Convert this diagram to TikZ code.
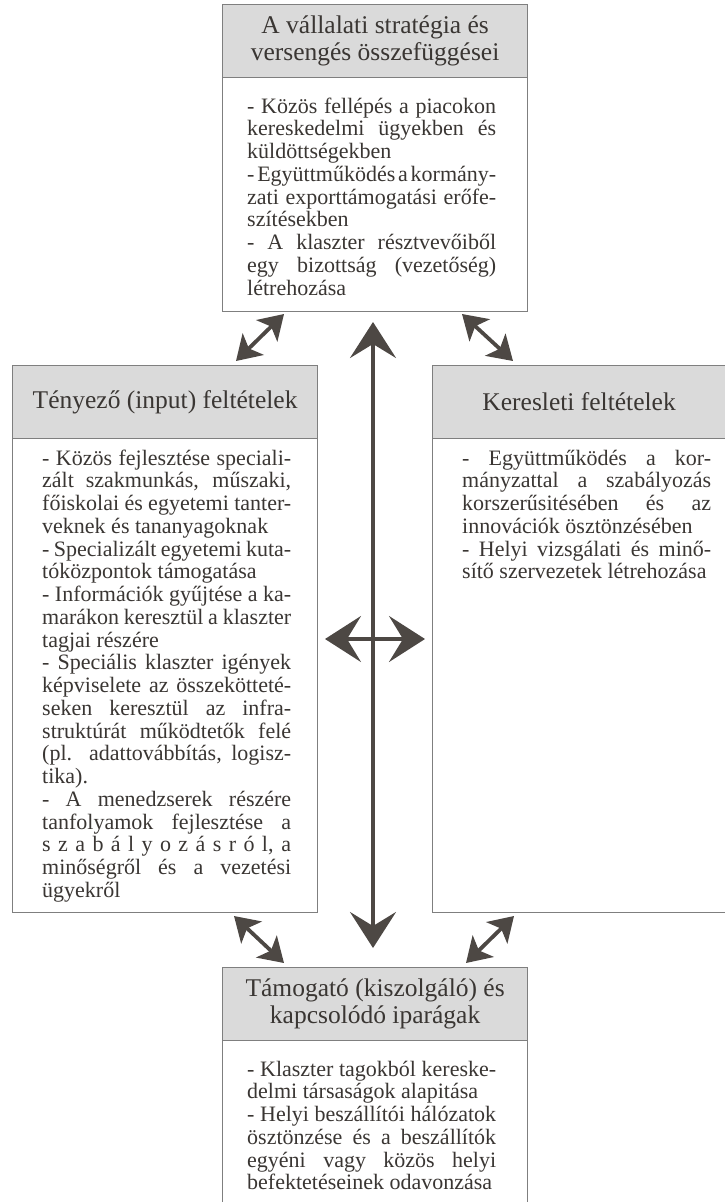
\documentclass[tikz,border=0pt]{standalone}
\usepackage{fontspec}
\setmainfont{Liberation Serif}[WordSpace={1,4,2}]
\usetikzlibrary{arrows.meta}
\definecolor{txt}{HTML}{3A3633}
\definecolor{arr}{HTML}{4D4844}
\definecolor{bord}{HTML}{7F7F7F}
\definecolor{hfill}{HTML}{DADADA}
\newdimen\bw \bw=249pt
\newcommand\JLine[1]{\hbox to \bw{#1}}
\newcommand\LLine[1]{\hbox to \bw{#1\hfil}}
\newcommand\BodyText[1]{\vtop{\baselineskip=22.75pt\lineskiplimit=-10pt #1}}
\begin{document}
\begin{tikzpicture}[x=1pt,y=-1pt,
  boxst/.style={draw=bord, line width=1.2pt, fill=white, inner sep=0pt, anchor=north west},
  hdrst/.style={draw=bord, line width=1.2pt, fill=hfill, inner sep=0pt, anchor=north west, minimum height=73pt},
  htext/.style={font=\fontsize{25.5}{27}\selectfont, align=center, text=txt, inner sep=0pt},
  btext/.style={font=\fontsize{22}{22.75}\selectfont, anchor=base west, inner sep=0pt, text=txt},
  bigarr/.style={draw=arr, line width=3.4pt, {Stealth[length=36pt,width=46pt,inset=14pt]}-{Stealth[length=36pt,width=46pt,inset=14pt]}},
  smallarr/.style={draw=arr, line width=3.8pt, {Stealth[length=24pt,width=30pt,inset=6pt]}-{Stealth[length=24pt,width=30pt,inset=6pt]}}]
\useasboundingbox (0,0) rectangle (725,1202);
\clip (0,0) rectangle (725,1202);

% top box
\node[boxst, minimum width=305pt, minimum height=307pt] (topbox) at (222,4) {};
\node[hdrst, minimum width=305pt] (tophdr) at (222,4) {};
\node[htext] (toptitle) at (tophdr.center) {A vállalati stratégia és\\versengés összefüggései};
\node[btext] (topbody) at (247,113) {\BodyText{%
\JLine{- Közös fellépés a piacokon}
\JLine{kereskedelmi ügyekben és}
\LLine{küldöttségekben}
\JLine{- Együttműködés a kormány-}
\JLine{zati exporttámogatási erőfe-}
\LLine{szítésekben}
\JLine{- A klaszter résztvevőiből}
\JLine{egy bizottság (vezetőség)}
\LLine{létrehozása}}};

% left box
\node[boxst, minimum width=305pt, minimum height=547pt] (leftbox) at (12,365) {};
\node[hdrst, minimum width=305pt] (lefthdr) at (12,365) {};
\node[htext] (lefttitle) at (lefthdr.center) {Tényező (input) feltételek};
\node[btext] (leftbody) at (42,465) {\BodyText{%
\JLine{- Közös fejlesztése speciali-}
\JLine{zált szakmunkás, műszaki,}
\JLine{főiskolai és egyetemi tanter-}
\LLine{veknek és tananyagoknak}
\JLine{- Specializált egyetemi kuta-}
\LLine{tóközpontok támogatása}
\JLine{- Információk gyűjtése a ka-}
\JLine{marákon keresztül a klaszter}
\LLine{tagjai részére}
\JLine{- Speciális klaszter igények}
\JLine{képviselete az összekötteté-}
\JLine{seken keresztül az infra-}
\JLine{struktúrát működtetők felé}
\JLine{(pl. adattovábbítás, logisz-}
\LLine{tika).}
\JLine{- A menedzserek részére}
\JLine{tanfolyamok fejlesztése a}
\JLine{s z a b á l y o z á s r ó l, a}
\JLine{minőségről és a vezetési}
\LLine{ügyekről}}};

% right box
\node[boxst, minimum width=297pt, minimum height=547pt] (rightbox) at (432,365) {};
\node[hdrst, minimum width=297pt] (righthdr) at (432,365) {};
\node[htext] (righttitle) at ([xshift=-2pt]righthdr.center) {Keresleti feltételek};
\node[btext] (rightbody) at (462,465) {\BodyText{%
\JLine{- Együttműködés a kor-}
\JLine{mányzattal a szabályozás}
\JLine{korszerűsitésében és az}
\LLine{innovációk ösztönzésében}
\JLine{- Helyi vizsgálati és minő-}
\LLine{sítő szervezetek létrehozása}}};

% bottom box
\node[boxst, minimum width=305pt, minimum height=245pt] (botbox) at (222,967) {};
\node[hdrst, minimum width=305pt] (bothdr) at (222,967) {};
\node[htext] (bottitle) at (bothdr.center) {Támogató (kiszolgáló) és\\kapcsolódó iparágak};
\node[btext] (botbody) at (247,1076) {\BodyText{%
\JLine{- Klaszter tagokból kereske-}
\LLine{delmi társaságok alapitása}
\JLine{- Helyi beszállítói hálózatok}
\JLine{ösztönzése és a beszállítók}
\JLine{egyéni vagy közös helyi}
\LLine{befektetéseinek odavonzása}}};

% arrow end points
\coordinate (vtop) at (373,322);
\coordinate (vbot) at (373,948);
\coordinate (hl) at (325,639);
\coordinate (hr) at (425,639);
\coordinate (tla) at (236,361);
\coordinate (tlb) at (284,314);
\coordinate (tra) at (462,314);
\coordinate (trb) at (513,361);
\coordinate (bla) at (234,916);
\coordinate (blb) at (284,963);
\coordinate (bra) at (514,916);
\coordinate (brb) at (466,963);

\draw[bigarr] (vtop) -- (vbot);
\draw[bigarr] (hl) -- (hr);
\draw[smallarr] (tla) -- (tlb);
\draw[smallarr] (tra) -- (trb);
\draw[smallarr] (bla) -- (blb);
\draw[smallarr] (bra) -- (brb);
\end{tikzpicture}
\end{document}
